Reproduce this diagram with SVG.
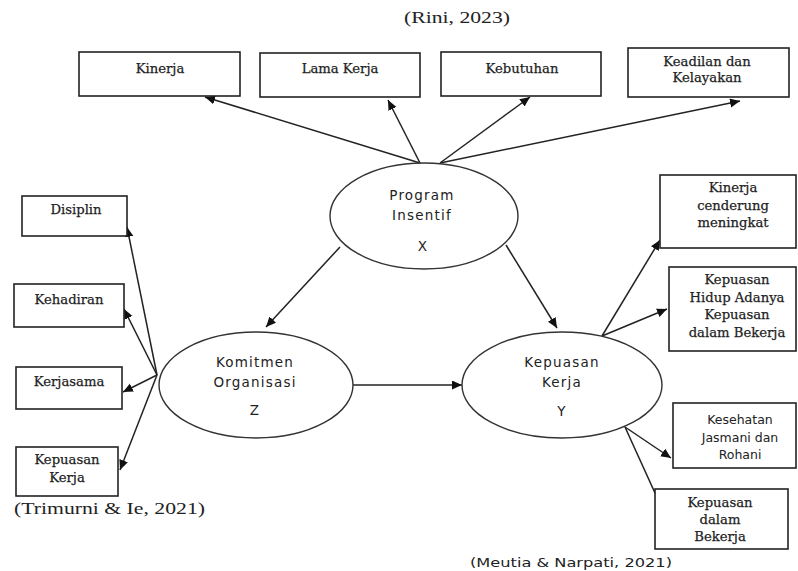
<svg xmlns="http://www.w3.org/2000/svg" width="798" height="571" viewBox="0 0 798 571">
<style>
.box{fill:#fff;stroke:#222;stroke-width:1.6}
.ell{fill:#fff;stroke:#333;stroke-width:1.4}
.st{font-family:"DejaVu Serif","Liberation Serif",serif;font-size:13.2px;fill:#222;stroke:#222;stroke-width:0.25;text-anchor:middle}
.ss{font-family:"DejaVu Sans","Liberation Sans",sans-serif;font-size:13.5px;fill:#222;text-anchor:middle;letter-spacing:1.2px}
.sk{font-family:"DejaVu Sans","Liberation Sans",sans-serif;font-size:12.5px;fill:#222;text-anchor:middle}
.cite{font-family:"Liberation Serif",serif;font-size:17px;fill:#222}
.cites{font-family:"DejaVu Sans","Liberation Sans",sans-serif;font-size:13px;fill:#222}
.ln{stroke:#222;stroke-width:1.5;fill:none;marker-end:url(#ah)}
</style>
<defs>
<marker id="ah" markerUnits="userSpaceOnUse" markerWidth="12" markerHeight="10" refX="10" refY="4.5" orient="auto">
<path d="M0,0 L10,4.5 L0,9 Z" fill="#111"/>
</marker>
</defs>
<rect width="798" height="571" fill="#fff"/>

<text class="cite" x="404" y="23" textLength="106" lengthAdjust="spacingAndGlyphs">(Rini, 2023)</text>
<text class="cite" x="14" y="514" textLength="191" lengthAdjust="spacingAndGlyphs">(Trimurni &amp; Ie, 2021)</text>
<text class="cites" x="470" y="567" textLength="202" lengthAdjust="spacingAndGlyphs">(Meutia &amp; Narpati, 2021)</text>

<g id="connectors">
<line class="ln" x1="420" y1="163" x2="205" y2="97"/>
<line class="ln" x1="420" y1="163" x2="388" y2="100"/>
<line class="ln" x1="440" y1="163" x2="530" y2="97"/>
<line class="ln" x1="440" y1="163" x2="740" y2="101"/>
<line class="ln" x1="340" y1="247" x2="266" y2="327"/>
<line class="ln" x1="506" y1="245" x2="557" y2="328"/>
<line class="ln" x1="353" y1="385" x2="462" y2="385"/>
<line class="ln" x1="157" y1="375" x2="127" y2="227"/>
<line class="ln" x1="157" y1="375" x2="124" y2="309"/>
<line class="ln" x1="157" y1="375" x2="123" y2="392"/>
<line class="ln" x1="157" y1="375" x2="120" y2="470"/>
<line class="ln" x1="602" y1="336" x2="660" y2="240"/>
<line class="ln" x1="602" y1="336" x2="667" y2="309"/>
<line class="ln" x1="625" y1="427" x2="671" y2="458"/>
<line class="ln" x1="625" y1="427" x2="665" y2="515"/>
</g>

<g id="kinerja"><rect class="box" x="79" y="52" width="161" height="44"/><text class="st" x="160" y="73">Kinerja</text></g>
<g id="lama-kerja"><rect class="box" x="260" y="53" width="160" height="44"/><text class="st" x="340" y="73">Lama Kerja</text></g>
<g id="kebutuhan"><rect class="box" x="441" y="52" width="160" height="44"/><text class="st" x="522" y="73">Kebutuhan</text></g>
<g id="keadilan"><rect class="box" x="628" y="48" width="161" height="49"/><text class="st" x="707" y="66">Keadilan  dan</text><text class="st" x="707" y="82">Kelayakan</text></g>

<g id="disiplin"><rect class="box" x="22" y="196" width="105" height="40"/><text class="st" x="76" y="214">Disiplin</text></g>
<g id="kehadiran"><rect class="box" x="14" y="284" width="110" height="43"/><text class="st" x="69" y="304">Kehadiran</text></g>
<g id="kerjasama"><rect class="box" x="16" y="367" width="106" height="42"/><text class="st" x="69" y="386">Kerjasama</text></g>
<g id="kepuasan-kerja-l"><rect class="box" x="16" y="447" width="102" height="49"/><text class="st" x="67" y="464">Kepuasan</text><text class="st" x="67" y="482">Kerja</text></g>

<g id="program-insentif"><ellipse class="ell" cx="424" cy="216" rx="94" ry="53"/><text class="ss" x="422" y="200">Program</text><text class="ss" x="422" y="220">Insentif</text><text class="ss" x="423" y="251">X</text></g>
<g id="komitmen"><ellipse class="ell" cx="256" cy="385" rx="97" ry="53"/><text class="ss" x="255" y="367">Komitmen</text><text class="ss" x="255" y="387">Organisasi</text><text class="ss" x="255" y="415">Z</text></g>
<g id="kepuasan-kerja-y"><ellipse class="ell" cx="562" cy="385" rx="100" ry="53"/><text class="ss" x="562" y="367">Kepuasan</text><text class="ss" x="562" y="387">Kerja</text><text class="ss" x="562" y="416">Y</text></g>

<g id="kinerja-cenderung"><rect class="box" x="660" y="175" width="136" height="73"/><text class="st" x="733" y="192">Kinerja</text><text class="st" x="733" y="210">cenderung</text><text class="st" x="733" y="227">meningkat</text></g>
<g id="kepuasan-hidup"><rect class="box" x="669" y="267" width="127" height="84"/><text class="st" x="737" y="284">Kepuasan</text><text class="st" x="737" y="302">Hidup Adanya</text><text class="st" x="737" y="319">Kepuasan</text><text class="st" x="737" y="337">dalam Bekerja</text></g>
<g id="kesehatan"><rect class="box" x="673" y="403" width="123" height="65"/><text class="sk" x="740" y="424">Kesehatan</text><text class="sk" x="740" y="442">Jasmani dan</text><text class="sk" x="740" y="459">Rohani</text></g>
<g id="kepuasan-dalam"><rect class="box" x="655" y="489" width="133" height="60"/><text class="st" x="720" y="507">Kepuasan</text><text class="st" x="720" y="524">dalam</text><text class="st" x="720" y="541">Bekerja</text></g>
</svg>
